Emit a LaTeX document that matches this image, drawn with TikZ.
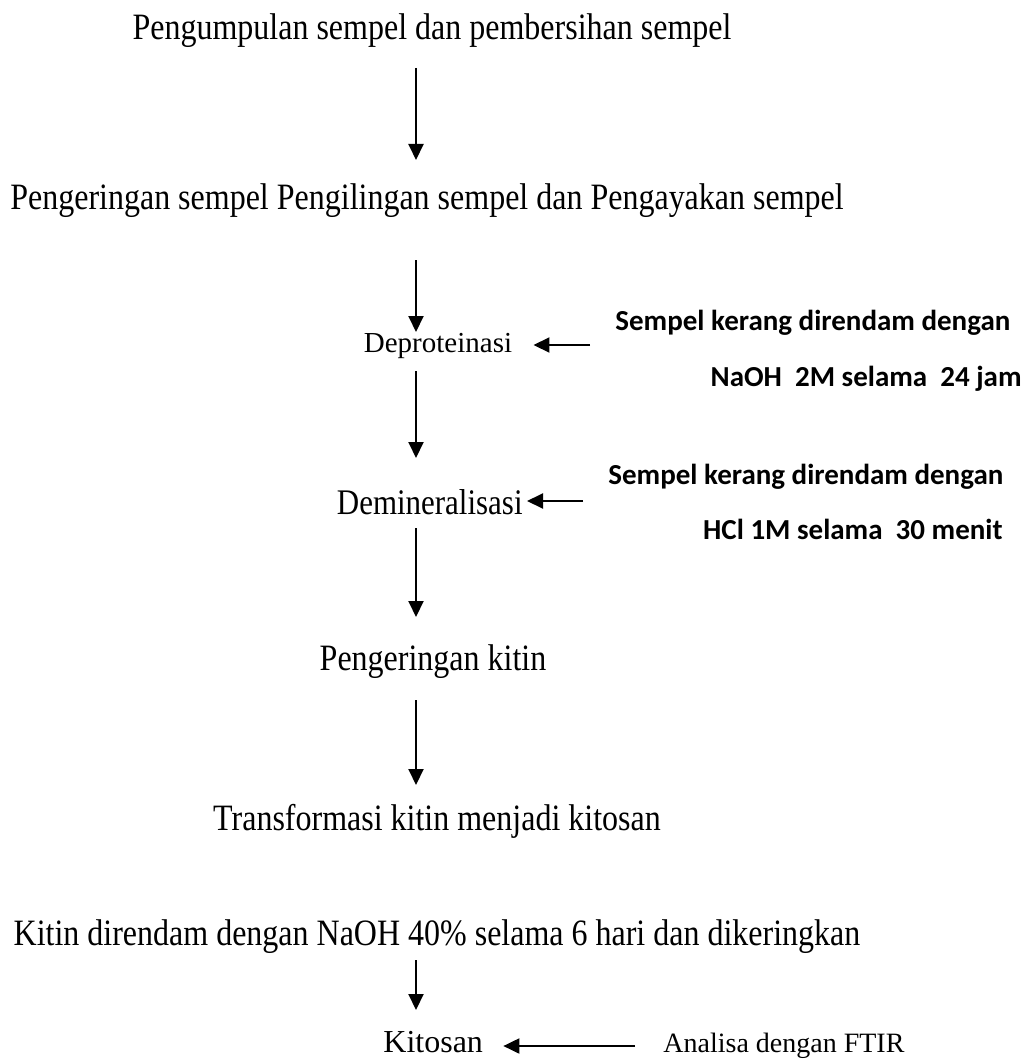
\documentclass[tikz,border=0pt]{standalone}
\usepackage{fontspec}
\setmainfont{Liberation Serif}
\newfontfamily\condser[FakeStretch=0.86]{Liberation Serif}
\newfontfamily\calib{Carlito}
\usetikzlibrary{arrows.meta}
\begin{document}
\begin{tikzpicture}[x=0.5pt,y=-0.5pt,
  txt/.style={font=\condser\fontsize{18.6}{22}\selectfont, inner sep=0pt, anchor=base},
  side/.style={font=\calib\bfseries\fontsize{14.5}{17}\selectfont, inner sep=0pt},
  arr/.style={line width=1pt, -{Triangle[length=8pt,width=7.5pt]}}]
\useasboundingbox (0,0) rectangle (1034,1064);
\fill[white] (0,0) rectangle (1034,1064);
\coordinate (ax) at (416,0);
% main column
\node[txt] (t1) at (432,40) {Pengumpulan sempel dan pembersihan sempel};
\node[txt] (t2) at (427,210) {Pengeringan sempel Pengilingan sempel dan Pengayakan sempel};
\node[txt, font=\rmfamily\fontsize{14.5}{17}\selectfont] (t3) at (438,352) {Deproteinasi};
\node[txt, font=\condser\fontsize{18}{21}\selectfont, anchor=base east] (t4) at (523,514) {Demineralisasi};
\node[txt] (t5) at (433,670) {Pengeringan kitin};
\node[txt] (t6) at (437,830) {Transformasi kitin menjadi kitosan};
\node[txt] (t7) at (437,945) {Kitin direndam dengan NaOH 40\% selama 6 hari dan dikeringkan};
\node[txt, font=\rmfamily\fontsize{16}{19}\selectfont, anchor=base west] (t8) at (383,1052) {Kitosan};
% side notes
\node[side, anchor=base west] (s1) at (615,330) {Sempel kerang direndam dengan};
\node[side, anchor=base east] (s1b) at (1022,386) {NaOH\ \ 2M selama\ \ 24 jam};
\node[side, anchor=base west] (s2) at (608,484) {Sempel kerang direndam dengan};
\node[side, anchor=base east] (s2b) at (1003,539) {HCl 1M selama\ \ 30 menit};
\node[txt, font=\rmfamily\fontsize{14}{17}\selectfont, anchor=base west] (s3) at (663,1052) {Analisa dengan FTIR};
% vertical arrows
\draw[arr, shorten <=14pt, shorten >=25pt] (t1.base -| ax) -- (t2.base -| ax);
\draw[arr, shorten <=25pt, shorten >=10pt] (t2.base -| ax) -- (t3.base -| ax);
\draw[arr, shorten <=9.5pt, shorten >=28pt] (t3.base -| ax) -- (t4.base -| ax);
\draw[arr, shorten <=7pt, shorten >=26.5pt] (t4.base -| ax) -- (t5.base -| ax);
\draw[arr, shorten <=15pt, shorten >=22.5pt] (t5.base -| ax) -- (t6.base -| ax);
\draw[arr, shorten <=7.5pt, shorten >=21pt] (t7.base -| ax) -- (t8.base -| ax);
% horizontal arrows
\coordinate (h1) at (590,345);
\coordinate (h2) at (583,501);
\coordinate (h3) at (635,1046);
\draw[arr, shorten >=10.5pt] (h1) -- (t3.east |- h1);
\draw[arr, shorten >=2pt] (h2) -- (t4.east |- h2);
\draw[arr, shorten >=10pt] (h3) -- (t8.east |- h3);
\end{tikzpicture}
\end{document}
